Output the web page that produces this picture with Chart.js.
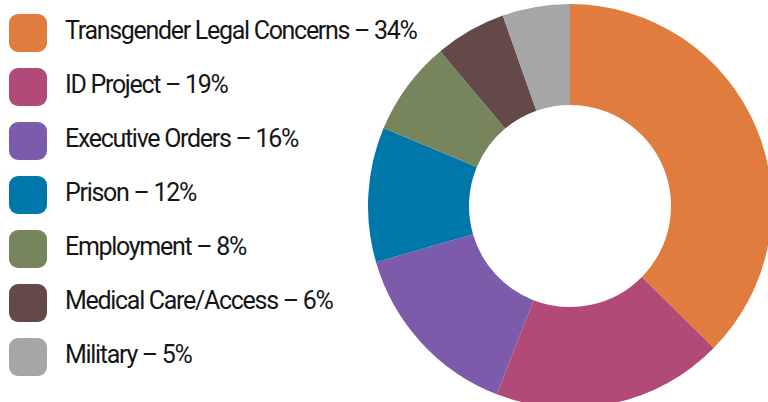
<!DOCTYPE html>
<html>
<head>
<meta charset="utf-8">
<script src="https://cdn.jsdelivr.net/npm/chart.js@4.4.0/dist/chart.umd.min.js"></script>
<style>
  html, body { margin: 0; padding: 0; background: #fff; overflow: hidden; width: 768px; height: 402px; }
  #legend { position: absolute; left: 9px; top: 6px; margin: 0; padding: 0; list-style: none; }
  #legend li { display: flex; align-items: center; height: 54px; }
  #legend .box { width: 38px; height: 38px; border-radius: 9px; flex: none; }
  #legend .txt { margin-left: 18px; font-family: Roboto, sans-serif; font-size: 25px; letter-spacing: -1.3px; color: #161616; white-space: nowrap; position: relative; top: -3px; }
  #wrap { position: absolute; left: 368px; top: 4px; width: 404px; height: 404px; }
</style>
</head>
<body>
<ul id="legend"></ul>
<div id="wrap"><canvas id="donut"></canvas></div>
<script>
// categorias e valores
const categorias = ['Transgender Legal Concerns', 'ID Project', 'Executive Orders', 'Prison', 'Employment', 'Medical Care/Access', 'Military'];
const percentuaisLegenda = ['34%', '19%', '16%', '12%', '8%', '6%', '5%'];
const valoresFatias = [37.4, 18.5, 14.6, 10.8, 7.6, 5.7, 5.4]; // tamanho das fatias como desenhadas
const cores = ['#E07D3E', '#B24A78', '#7D5BAB', '#0077A9', '#76855C', '#634A49', '#A6A6A6'];

// legenda em HTML
const legendEl = document.getElementById('legend');
categorias.forEach((cat, i) => {
    const li = document.createElement('li');
    const box = document.createElement('span');
    box.className = 'box';
    box.style.background = cores[i];
    const txt = document.createElement('span');
    txt.className = 'txt';
    txt.textContent = cat + ' \u2013 ' + percentuaisLegenda[i];
    li.appendChild(box);
    li.appendChild(txt);
    legendEl.appendChild(li);
});

const config = {
    type: 'doughnut',
    data: {
        labels: categorias,
        datasets: [{
            data: valoresFatias,
            backgroundColor: cores,
            borderWidth: 0
        }]
    },
    options: {
        responsive: true,
        maintainAspectRatio: false,
        animation: false,
        cutout: '50%',
        layout: { padding: 0 },
        plugins: {
            legend: { display: false },
            tooltip: { enabled: false }
        }
    }
};

new Chart(document.getElementById('donut'), config);
</script>
</body>
</html>
